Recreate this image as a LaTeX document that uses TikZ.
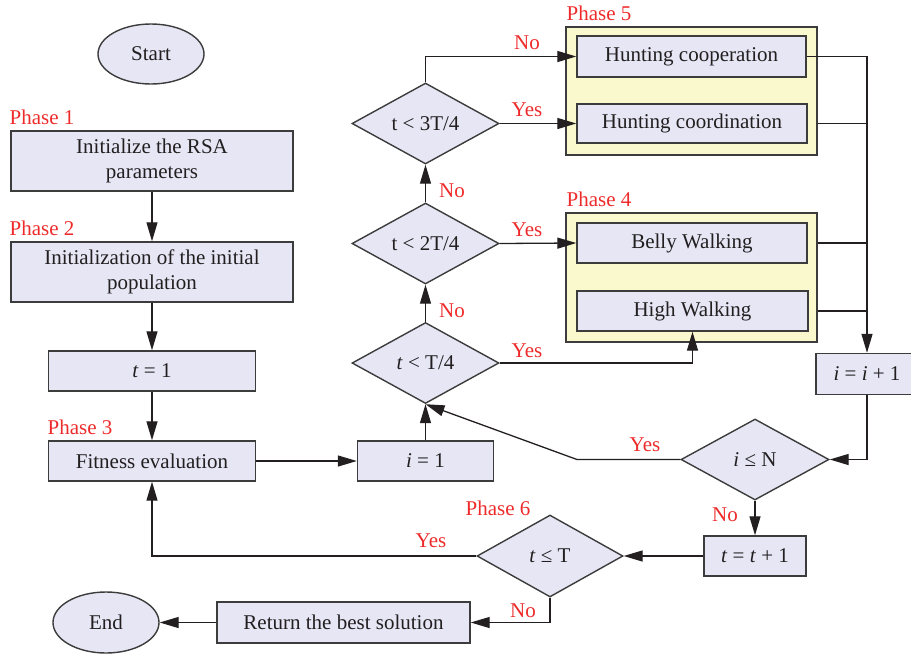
\documentclass[tikz,border=0pt]{standalone}
\usepackage{fontspec}
\setmainfont{Liberation Serif}
\usetikzlibrary{shapes.geometric,arrows.meta}
\definecolor{boxfill}{RGB}{230,230,245}
\definecolor{contfill}{RGB}{250,248,205}
\definecolor{phasered}{RGB}{238,43,43}
\definecolor{ink}{RGB}{35,31,32}
\definecolor{edge}{RGB}{60,60,60}
\begin{document}
\begin{tikzpicture}[x=1pt,y=-1pt,
  font=\fontsize{21}{25}\selectfont,
  boxs/.style={draw=edge, line width=1.4pt, fill=boxfill, text=ink, inner sep=0pt, align=center},
  ellip/.style={ellipse, draw=edge, line width=1.4pt, fill=boxfill, text=ink, inner sep=0pt},
  dia/.style={diamond, draw=edge, line width=1.4pt, fill=boxfill, text=ink, inner sep=0pt, shape aspect=1.8, minimum width=147, minimum height=81},
  cont/.style={draw=edge, line width=1.4pt, fill=contfill, inner sep=0pt},
  phase/.style={text=phasered, inner sep=0pt},
  lbl/.style={text=phasered, inner sep=0pt},
  arr/.style={draw=ink, line width=1.3pt, -{Triangle[length=19pt,width=11pt]}},
  ln/.style={draw=ink, line width=1.3pt}]
\useasboundingbox (0,0) rectangle (911,654);

% left column
\node[ellip, minimum width=106, minimum height=60] (start) at (151,54) {Start};
\node[phase] (ph1) at (42,117) {Phase 1};
\node[boxs, minimum width=282, minimum height=60] (init) at (152,161) {Initialize the RSA\\parameters};
\node[phase] (ph2) at (42,228) {Phase 2};
\node[boxs, minimum width=282, minimum height=60] (pop) at (152,272) {Initialization of the initial\\population};
\node[boxs, minimum width=207, minimum height=40] (t1) at (152,371) {\textit{t} = 1};
\node[phase] (ph3) at (80,427) {Phase 3};
\node[boxs, minimum width=207, minimum height=40] (fit) at (152,461) {Fitness evaluation};
\node[boxs, minimum width=136, minimum height=40] (i1) at (425.5,461) {\textit{i} = 1};

% decisions
\node[dia] (d1) at (425.5,363) {\textit{t} < T/4};
\node[dia] (d2) at (425.5,243.5) {t < 2T/4};
\node[dia] (d3) at (425.5,123.5) {t < 3T/4};

% phase 5
\node[cont, minimum width=251, minimum height=128] (c5) at (691.5,91) {};
\node[phase] (ph5) at (599,13) {Phase 5};
\node[boxs, minimum width=229, minimum height=41] (hc1) at (691.5,56.5) {Hunting cooperation};
\node[boxs, minimum width=230, minimum height=39] (hc2) at (692,123.5) {Hunting coordination};

% phase 4
\node[cont, minimum width=251, minimum height=129] (c4) at (691.5,277.5) {};
\node[phase] (ph4) at (599,199) {Phase 4};
\node[boxs, minimum width=230, minimum height=40] (bw) at (692,243) {Belly Walking};
\node[boxs, minimum width=231, minimum height=40] (hw) at (692.5,311) {High Walking};

% right column
\node[boxs, minimum width=102, minimum height=41] (iinc) at (867,374) {\textit{i} = \textit{i} + 1};
\node[dia, minimum width=148] (dN) at (755,459.5) {\textit{i} ≤ N};
\node[boxs, minimum width=102, minimum height=40] (tinc) at (755,556) {\textit{t} = \textit{t} + 1};
\node[phase] (ph6) at (498,508) {Phase 6};
\node[dia, minimum width=146, minimum height=82] (dT) at (550,556) {\textit{t} ≤ T};
\node[boxs, minimum width=253, minimum height=41] (ret) at (343.5,622.5) {Return the best solution};
\node[ellip, minimum width=106, minimum height=61] (endn) at (106,622.5) {End};

\coordinate (bend) at (577,459.5);

% connectors
\draw[arr] (init) -- (pop);
\draw[arr] (pop) -- (t1);
\draw[arr] (t1) -- (fit);
\draw[arr] (fit) -- (i1);
\draw[arr] (i1.north) -- (d1.south);
\draw[arr] (d1.north) -- (d2.south);
\draw[arr] (d2.north) -- (d3.south);
\draw[arr] (d3.north) |- (hc1.west);
\draw[arr] (d3.east) -- (hc2.west);
\draw[arr] (d2.east) -- (bw.west);
\draw[arr] (d1.east) -| (hw.south);
\draw[arr] (hc1.east) -| (iinc.north);
\draw[ln] (c5.east |- hc2.east) -- (iinc |- hc2.east);
\draw[ln] (c4.east |- bw.east) -- (iinc |- bw.east);
\draw[ln] (c4.east |- hw.east) -- (iinc |- hw.east);
\draw[arr] (iinc.south) |- (dN.east);
\draw[arr] (dN.west) -- (bend) -- (d1.south);
\draw[arr] (dN.south) -- (tinc.north);
\draw[arr] (tinc.west) -- (dT.east);
\draw[arr] (dT.west) -| (fit.south);
\draw[arr] (dT.south) |- (ret.east);
\draw[arr] (ret.west) -- (endn.east);

% labels
\node[lbl] at (452,191) {No};
\node[lbl] at (452,311) {No};
\node[lbl] at (527,43) {No};
\node[lbl] at (527,110) {Yes};
\node[lbl] at (527,230) {Yes};
\node[lbl] at (527,351) {Yes};
\node[lbl] at (645,445) {Yes};
\node[lbl] at (725,515) {No};
\node[lbl] at (431,541) {Yes};
\node[lbl] at (523,611) {No};
\end{tikzpicture}
\end{document}
